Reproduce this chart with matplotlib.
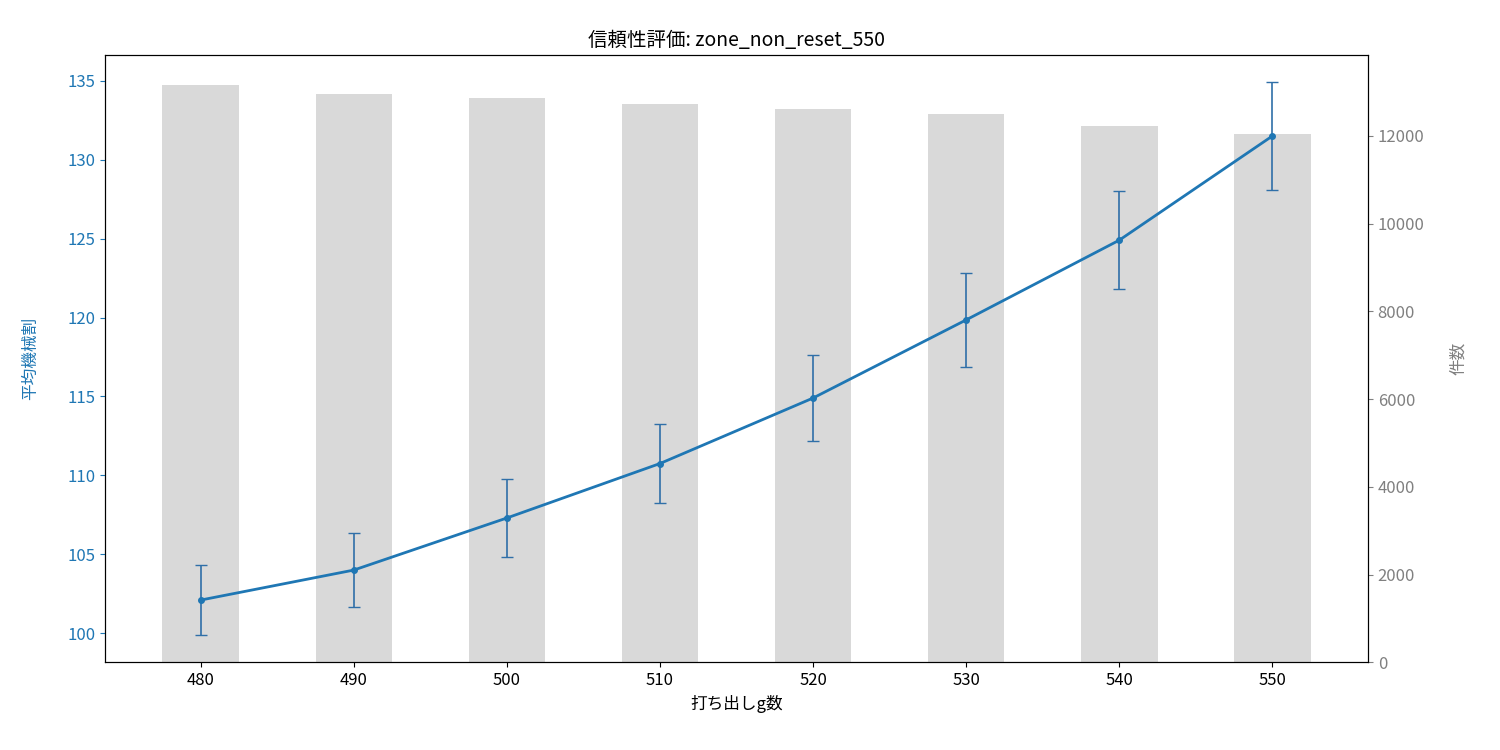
import numpy as np
import matplotlib
matplotlib.use('Agg')
import matplotlib.pyplot as plt

plt.rcParams['font.family'] = ['Noto Sans CJK JP', 'DejaVu Sans']

g = np.array([480, 490, 500, 510, 520, 530, 540, 550])
mean_rate = np.array([102.1, 104.0, 107.3, 110.75, 114.9, 119.85, 124.9, 131.5])
err = np.array([2.2, 2.35, 2.5, 2.5, 2.7, 3.0, 3.1, 3.4])
counts = np.array([13165, 12960, 12868, 12731, 12617, 12503, 12229, 12046])

fig, ax = plt.subplots(figsize=(15, 7.5), dpi=100)
ax2 = ax.twinx()
ax2.bar(g, counts, width=5, color='#d9d9d9')
ax2.set_ylabel('件数', color='gray', fontsize=12, labelpad=18)
ax2.tick_params(axis='y', colors='gray', labelsize=12)
ax2.set_ylim(0, 13848)

ax.set_zorder(ax2.get_zorder() + 1)
ax.patch.set_visible(False)
ax.errorbar(g, mean_rate, yerr=err, color='#1f77b4', marker='o', markersize=4,
            capsize=4, ecolor='#2f6fa8', elinewidth=1.2, linewidth=2)
ax.set_ylim(98.16, 136.65)
ax.set_xticks(g)
ax.tick_params(axis='y', colors='#1f77b4', labelsize=12)
ax.tick_params(axis='x', labelsize=12)
ax.set_ylabel('平均機械割', color='#1f77b4', fontsize=12, labelpad=20)
ax.set_xlabel('打ち出しg数', fontsize=12)
ax.set_title('信頼性評価: zone_non_reset_550', fontsize=14)

fig.subplots_adjust(left=0.07, right=0.912, top=0.927, bottom=0.117)
fig.savefig('out.png')
